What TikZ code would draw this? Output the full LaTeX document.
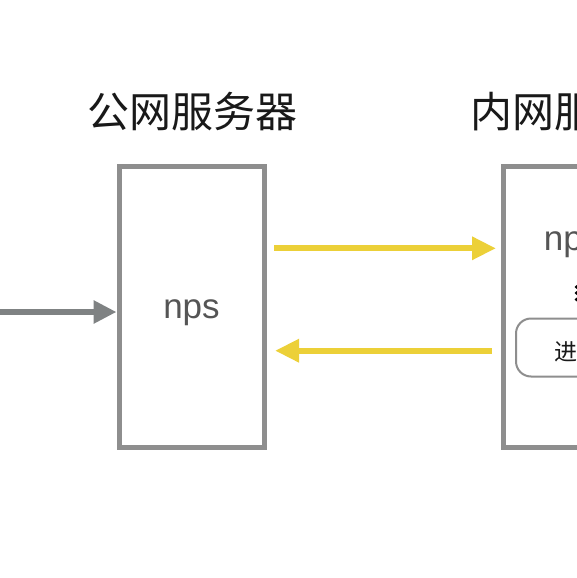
\documentclass[tikz,border=0pt]{standalone}
\usepackage{fontspec}
\setmainfont{Liberation Sans}
\newfontfamily\cjk{Noto Sans CJK SC}
\usetikzlibrary{arrows.meta}
\definecolor{boxgray}{RGB}{142,142,142}
\definecolor{arrgray}{RGB}{127,130,131}
\definecolor{arryel}{RGB}{236,208,56}
\definecolor{txtgray}{RGB}{85,85,85}
\definecolor{darktxt}{RGB}{25,25,25}
\tikzset{
  srv/.style={draw=boxgray, line width=5pt, rectangle, minimum width=145pt, minimum height=281pt, inner sep=0pt},
  proc/.style={draw=boxgray, line width=2pt, rounded corners=15pt, rectangle, minimum width=122pt, minimum height=58pt, inner sep=0pt},
  title/.style={font=\cjk\fontsize{42}{48}\selectfont, text=darktxt, inner sep=0pt},
  prog/.style={font=\fontsize{35}{42}\selectfont, text=txtgray, inner sep=0pt},
  small/.style={font=\cjk\fontsize{23}{28}\selectfont, text=darktxt, inner sep=0pt},
  grayarrow/.style={draw=arrgray, line width=6pt, -{Triangle[length=23pt,width=22pt]}},
  yelarrow/.style={draw=arryel, line width=6pt, -{Triangle[length=24pt,width=22pt]}},
  vdot/.style={circle, fill=black, inner sep=0pt, minimum size=3.6pt}
}
\begin{document}
\begin{tikzpicture}[x=1pt,y=-1pt]
\useasboundingbox (0,0) rectangle (577,578);
\fill[white] (0,0) rectangle (577,578);
\clip (0,0) rectangle (577,578);
% titles
\node[title] (t1) at (192.5,112) {公网服务器};
\node[title, anchor=west] (t2) at (470,112) {内网服};
% boxes
\node[srv] (lbox) at (191.5,306.5) {};
\node[srv] (rbox) at (575.5,306.5) {};
\node[prog, anchor=base] (nps) at (191.5,318.5) {nps};
\node[prog, anchor=base west] (npc) at (543.7,250.7) {np};
\node[vdot] (d1) at (576.5,287) {};
\node[vdot] (d2) at (576.5,293) {};
\node[vdot] (d3) at (576.5,299.5) {};
\node[proc, anchor=west] (pbox) at (515,347.5) {};
\node[small, anchor=west] (pt) at (554,352) {进};
% arrows
\coordinate (src) at (-10,312);
\draw[grayarrow] (src) -- (lbox.west |- src);
\coordinate (y1s) at (274,248.3);
\coordinate (y1e) at (496,248.3);
\draw[yelarrow] (y1s) -- (y1e);
\coordinate (y2s) at (491.7,350.7);
\coordinate (y2e) at (275,350.7);
\draw[yelarrow] (y2s) -- (y2e);
\end{tikzpicture}
\end{document}
